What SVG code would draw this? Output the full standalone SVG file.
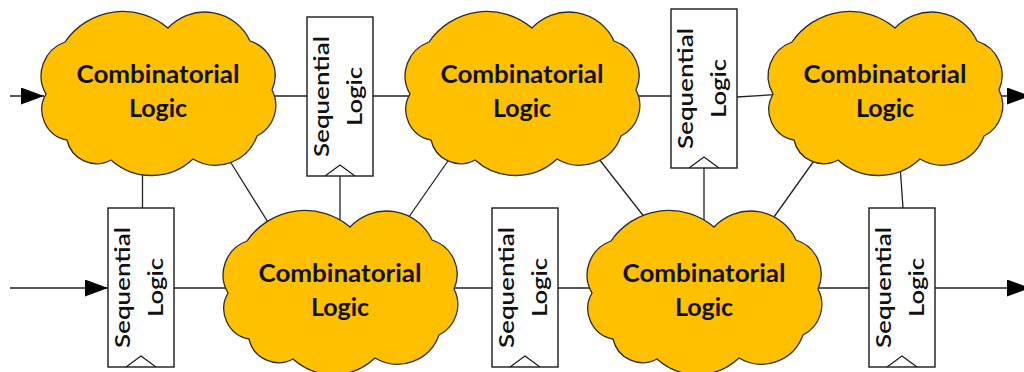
<svg xmlns="http://www.w3.org/2000/svg" width="1024" height="372" viewBox="0 0 1024 372">
<defs>
<style>
.cloud{fill:#FFC000;stroke:#2b2b2b;stroke-width:1.3}
.seq{fill:#fff;stroke:#1a1a1a;stroke-width:1.4}
.clk{fill:none;stroke:#1a1a1a;stroke-width:1.2}
.wire{fill:none;stroke:#222;stroke-width:1.3}
.ct{font-family:Lato,"Open Sans","Liberation Sans",sans-serif;font-weight:bold;font-size:25px;fill:#111;text-anchor:middle}
.st{font-family:Lato,"Open Sans","Liberation Sans",sans-serif;font-weight:600;font-size:21px;fill:#111;text-anchor:middle}
</style>
<path id="cloudShape" d="M3,82 A36,36 0 0 1 22,30 A70,70 0 0 1 125,16 A50,50 0 0 1 207,29 A36,36 0 0 1 229,78 A34,34 0 0 1 214,124 A44,44 0 0 1 150,147 A60.5,60.5 0 0 1 68,148 A30.3,30.3 0 0 1 24,128 A31,31 0 0 1 3,82 Z"/>
<marker id="arrow" markerUnits="userSpaceOnUse" markerWidth="24" markerHeight="17" refX="23" refY="8.5" orient="auto">
<path d="M0,0 L23,8.5 L0,17 Z" fill="#000"/>
</marker>
</defs>
<rect width="1024" height="372" fill="#fff"/>
<g id="connectors">
<path class="wire" d="M10,96 H44" marker-end="url(#arrow)"/>
<path class="wire" d="M260,96 H307"/>
<path class="wire" d="M373,96 H420"/>
<path class="wire" d="M625,96 H671"/>
<path class="wire" d="M737,97 L785,94"/>
<path class="wire" d="M990,96 H1030" marker-end="url(#arrow)"/>
<path class="wire" d="M10,288 H108" marker-end="url(#arrow)"/>
<path class="wire" d="M174,288 H240"/>
<path class="wire" d="M445,288 H492"/>
<path class="wire" d="M558,288 H600"/>
<path class="wire" d="M805,288 H869"/>
<path class="wire" d="M935,288 H1030" marker-end="url(#arrow)"/>
<path class="wire" d="M142.5,165 V208"/>
<path class="wire" d="M228,158 L276,235"/>
<path class="wire" d="M340,176 V225"/>
<path class="wire" d="M450,158 L404,224"/>
<path class="wire" d="M595,154 L649,223"/>
<path class="wire" d="M704,168 V224"/>
<path class="wire" d="M816,158 L769,224"/>
<path class="wire" d="M900,165 L903,208"/>
</g>
<g id="comb-top-1" transform="translate(43,12)">
<use href="#cloudShape" class="cloud"/>
<text class="ct" x="115" y="71" textLength="163" lengthAdjust="spacingAndGlyphs">Combinatorial</text>
<text class="ct" x="115" y="105">Logic</text>
</g>
<g id="comb-top-2" transform="translate(407,12)">
<use href="#cloudShape" class="cloud"/>
<text class="ct" x="115" y="71" textLength="163" lengthAdjust="spacingAndGlyphs">Combinatorial</text>
<text class="ct" x="115" y="105">Logic</text>
</g>
<g id="comb-top-3" transform="translate(770,12)">
<use href="#cloudShape" class="cloud"/>
<text class="ct" x="115" y="71" textLength="163" lengthAdjust="spacingAndGlyphs">Combinatorial</text>
<text class="ct" x="115" y="105">Logic</text>
</g>
<g id="comb-bottom-1" transform="translate(225,211)">
<use href="#cloudShape" class="cloud"/>
<text class="ct" x="115" y="71" textLength="163" lengthAdjust="spacingAndGlyphs">Combinatorial</text>
<text class="ct" x="115" y="105">Logic</text>
</g>
<g id="comb-bottom-2" transform="translate(589,211)">
<use href="#cloudShape" class="cloud"/>
<text class="ct" x="115" y="71" textLength="163" lengthAdjust="spacingAndGlyphs">Combinatorial</text>
<text class="ct" x="115" y="105">Logic</text>
</g>
<g id="seq-top-1" transform="translate(307,17)">
<rect class="seq" width="66" height="159"/>
<polyline class="clk" points="18,159 33,148 48,159"/>
<text class="st" transform="translate(22,79.5) rotate(-90)" textLength="121" lengthAdjust="spacingAndGlyphs">Sequential</text>
<text class="st" transform="translate(55,79.5) rotate(-90)" textLength="59" lengthAdjust="spacingAndGlyphs">Logic</text>
</g>
<g id="seq-top-2" transform="translate(671,9)">
<rect class="seq" width="66" height="159"/>
<polyline class="clk" points="18,159 33,148 48,159"/>
<text class="st" transform="translate(22,79.5) rotate(-90)" textLength="121" lengthAdjust="spacingAndGlyphs">Sequential</text>
<text class="st" transform="translate(55,79.5) rotate(-90)" textLength="59" lengthAdjust="spacingAndGlyphs">Logic</text>
</g>
<g id="seq-bottom-1" transform="translate(108,208)">
<rect class="seq" width="66" height="159"/>
<polyline class="clk" points="18,159 33,148 48,159"/>
<text class="st" transform="translate(22,79.5) rotate(-90)" textLength="121" lengthAdjust="spacingAndGlyphs">Sequential</text>
<text class="st" transform="translate(55,79.5) rotate(-90)" textLength="59" lengthAdjust="spacingAndGlyphs">Logic</text>
</g>
<g id="seq-bottom-2" transform="translate(492,208)">
<rect class="seq" width="66" height="159"/>
<polyline class="clk" points="18,159 33,148 48,159"/>
<text class="st" transform="translate(22,79.5) rotate(-90)" textLength="121" lengthAdjust="spacingAndGlyphs">Sequential</text>
<text class="st" transform="translate(55,79.5) rotate(-90)" textLength="59" lengthAdjust="spacingAndGlyphs">Logic</text>
</g>
<g id="seq-bottom-3" transform="translate(869,208)">
<rect class="seq" width="66" height="159"/>
<polyline class="clk" points="18,159 33,148 48,159"/>
<text class="st" transform="translate(22,79.5) rotate(-90)" textLength="121" lengthAdjust="spacingAndGlyphs">Sequential</text>
<text class="st" transform="translate(55,79.5) rotate(-90)" textLength="59" lengthAdjust="spacingAndGlyphs">Logic</text>
</g>
</svg>
